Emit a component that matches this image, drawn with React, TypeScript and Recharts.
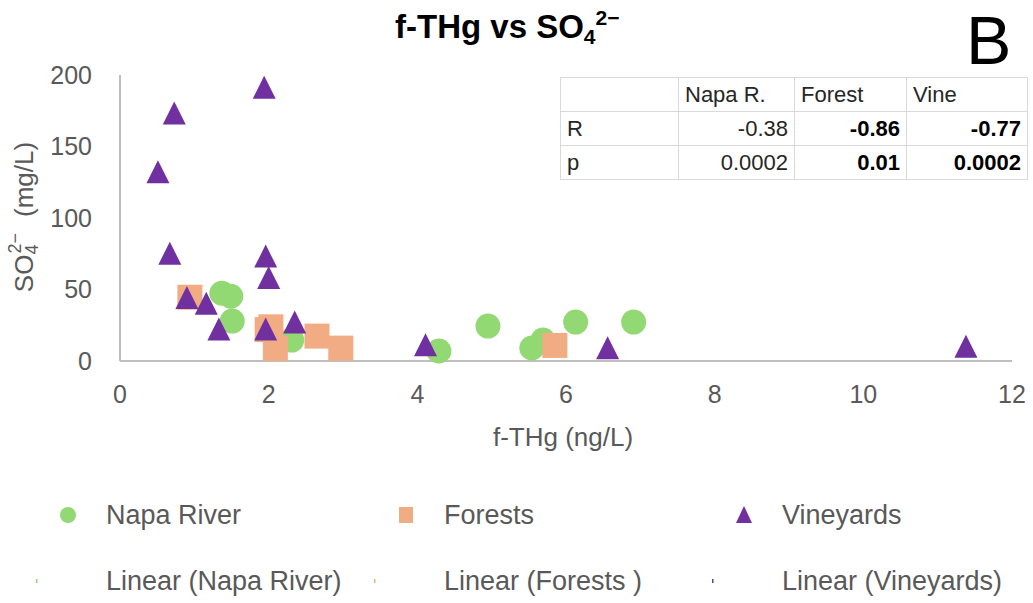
import { ScatterChart, Scatter, XAxis, YAxis } from "recharts"

// f-THg (ng/L) vs SO4 (mg/L)
const napaX = [1.37, 1.49, 1.51, 2.31, 4.95, 4.29, 5.54, 5.69, 6.13, 6.91]
const napaY = [47.4, 45.3, 27.9, 14.6, 24.4, 7.0, 9.1, 14.6, 27.2, 27.2]

const forestX = [0.94, 1.98, 2.03, 2.09, 2.65, 2.97, 5.85]
const forestY = [44.6, 22, 23.9, 8.8, 17.4, 9, 10.9]

const vineX = [1.94, 0.73, 0.51, 0.67, 1.96, 2.0, 0.9, 1.16, 1.33, 1.96, 2.35, 4.11, 6.56, 11.38]
const vineY = [191, 173, 132, 75, 73, 58, 44, 40, 22, 22, 27, 11, 9, 10]

const xTicks = [0, 2, 4, 6, 8, 10, 12]
const yTicks = [0, 50, 100, 150, 200]

const tableCols = ["Napa R.", "Forest", "Vine"]
const rValues = ["-0.38", "-0.86", "-0.77"]
const pValues = ["0.0002", "0.01", "0.0002"]

const seriesNames = ["Napa River", "Forests", "Vineyards"]
const trendNames = ["Linear (Napa River)", "Linear (Forests )", "Linear (Vineyards)"]

const GREEN = "#92D873"
const ORANGE = "#F2AC84"
const PURPLE = "#7030A0"
const FONT = "'Liberation Sans', Arial, sans-serif"
const GREY = "#595959"

const toPoints = (xs: number[], ys: number[]) => xs.map((x, i) => ({ x, y: ys[i] }))

const napaData = toPoints(napaX, napaY)
const forestData = toPoints(forestX, forestY)
const vineData = toPoints(vineX, vineY)

const CircleMark = (p: any) => <circle cx={p.cx} cy={p.cy} r={12.5} fill={GREEN} />
const SquareMark = (p: any) => <rect x={p.cx - 12.5} y={p.cy - 12.5} width={25} height={25} fill={ORANGE} />
const TriangleMark = (p: any) => (
  <path d={`M${p.cx},${p.cy - 12} L${p.cx + 11.5},${p.cy + 11} L${p.cx - 11.5},${p.cy + 11} Z`} fill={PURPLE} />
)

const legendX = [0, 338, 676]
const legendColors = [GREEN, ORANGE, PURPLE]

function legendMarker(i: number, x: number, y: number) {
  if (i === 0) return <circle cx={x} cy={y} r={8} fill={GREEN} />
  if (i === 1) return <rect x={x - 7} y={y - 8} width={14} height={16} fill={ORANGE} />
  return <path d={`M${x},${y - 9} L${x + 8},${y + 8} L${x - 8},${y + 8} Z`} fill={PURPLE} />
}

const cell: React.CSSProperties = {
  border: "1.5px solid #d9d9d9",
  padding: "0 6px",
  height: 33,
  fontSize: 22,
  color: "#262626",
}

export default function App() {
  return (
    <div style={{ position: "absolute", left: 0, top: 0, width: 1033, height: 603, background: "#fff", fontFamily: FONT }}>
      <ScatterChart width={1033} height={603} margin={{ top: 75, right: 21, bottom: 202, left: 50 }}>
        <XAxis
          type="number"
          dataKey="x"
          domain={[0, 12]}
          ticks={xTicks}
          height={40}
          tickLine={false}
          tickSize={0}
          tickMargin={24}
          axisLine={{ stroke: "#bfbfbf", strokeWidth: 2 }}
          tick={{ fill: GREY, fontSize: 25, fontFamily: FONT }}
        />
        <YAxis
          type="number"
          dataKey="y"
          domain={[0, 200]}
          ticks={yTicks}
          width={70}
          tickLine={false}
          tickSize={0}
          tickMargin={28}
          axisLine={{ stroke: "#bfbfbf", strokeWidth: 2 }}
          tick={{ fill: GREY, fontSize: 25, fontFamily: FONT }}
        />
        <Scatter name="Napa River" data={napaData} shape={CircleMark} isAnimationActive={false} />
        <Scatter name="Forests" data={forestData} shape={SquareMark} isAnimationActive={false} />
        <Scatter name="Vineyards" data={vineData} shape={TriangleMark} isAnimationActive={false} />
      </ScatterChart>

      <svg width={1033} height={603} style={{ position: "absolute", left: 0, top: 0, pointerEvents: "none" }}>
        <text x={395} y={38} fontFamily={FONT} fontWeight="bold" fontSize={33} fill="#000">
          f-THg vs SO
          <tspan fontSize={21} dy={6}>4</tspan>
          <tspan fontSize={21} dy={-19}>2−</tspan>
        </text>
        <text x={966} y={64} fontFamily={FONT} fontSize={68} fill="#000">B</text>

        <text x={563} y={446} textAnchor="middle" fontFamily={FONT} fontSize={26} fill={GREY}>f-THg (ng/L)</text>
        <text x={33} y={217} transform="rotate(-90 33 217)" textAnchor="middle" fontFamily={FONT} fontSize={26} fill={GREY}>
          SO
          <tspan fontSize={18} dy={5}>4</tspan>
          <tspan fontSize={18} dx={-9} dy={-17}>2−</tspan>
          <tspan dx={16} dy={12}>(mg/L)</tspan>
        </text>

        {seriesNames.map((name, i) => (
          <g key={name}>
            {legendMarker(i, 68 + legendX[i], 515)}
            <text x={106 + legendX[i]} y={524} fontFamily={FONT} fontSize={27} fill={GREY}>{name}</text>
          </g>
        ))}
        {trendNames.map((name, i) => (
          <g key={name}>
            <rect x={36 + legendX[i]} y={579} width={1.5} height={4} fill={legendColors[i]} />
            <text x={106 + legendX[i]} y={590} fontFamily={FONT} fontSize={27} fill={GREY}>{name}</text>
          </g>
        ))}
      </svg>

      <table
        style={{
          position: "absolute",
          left: 560,
          top: 77,
          borderCollapse: "collapse",
          background: "#fff",
          fontFamily: FONT,
        }}
      >
        <tbody>
          <tr>
            <td style={{ ...cell, width: 105 }}></td>
            {tableCols.map((c, i) => (
              <td key={c} style={{ ...cell, width: [103, 99, 108][i], textAlign: "left" }}>{c}</td>
            ))}
          </tr>
          <tr>
            <td style={cell}>R</td>
            {rValues.map((v, i) => (
              <td key={i} style={{ ...cell, textAlign: "right", fontWeight: i > 0 ? "bold" : "normal", color: i > 0 ? "#000" : "#262626" }}>{v}</td>
            ))}
          </tr>
          <tr>
            <td style={cell}>p</td>
            {pValues.map((v, i) => (
              <td key={i} style={{ ...cell, textAlign: "right", fontWeight: i > 0 ? "bold" : "normal", color: i > 0 ? "#000" : "#262626" }}>{v}</td>
            ))}
          </tr>
        </tbody>
      </table>
    </div>
  )
}
